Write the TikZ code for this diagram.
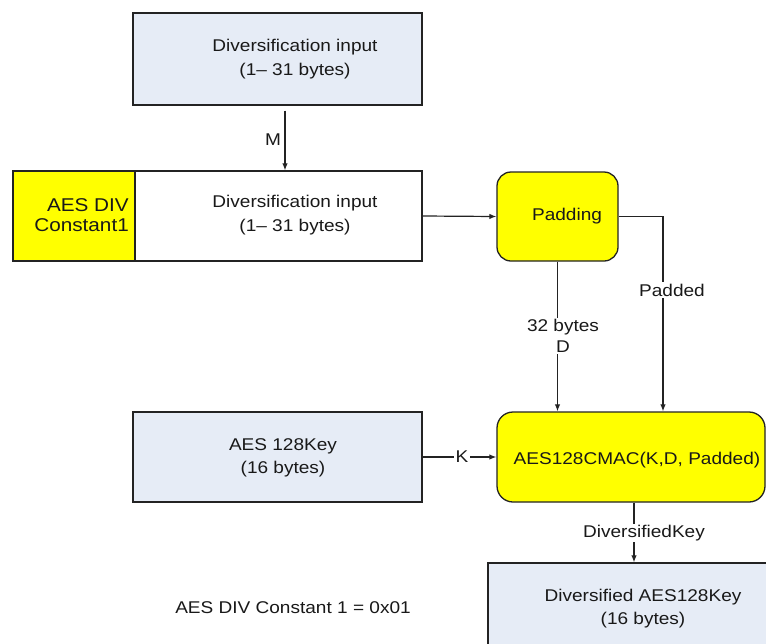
\documentclass[tikz,border=0pt]{standalone}
\usepackage{fontspec}
\setmainfont{Liberation Sans}[FakeStretch=1.12]
\usetikzlibrary{arrows.meta,calc}
\definecolor{boxblue}{RGB}{230,236,246}
\definecolor{yel}{RGB}{255,255,0}
\definecolor{linecol}{RGB}{35,35,35}
\definecolor{txtcol}{RGB}{25,25,25}
\tikzset{
  box/.style={draw=linecol, line width=1.3pt, inner sep=0pt},
  bluebox/.style={box, fill=boxblue},
  yelbox/.style={box, fill=yel, rounded corners=14pt},
  txt/.style={align=center, inner sep=1pt, text=txtcol},
  lbl/.style={fill=white, inner sep=1.5pt, text=txtcol, align=center},
  arr/.style={draw=linecol, line width=1.2pt, -{Latex[length=7pt,width=5.5pt]}},
}
\begin{document}
\begin{tikzpicture}[x=1pt,y=-1pt,font=\fontsize{17}{23.5}\selectfont]
\clip (0,0) rectangle (766,643);
\fill[white] (0,0) rectangle (766,643);
% boxes
\node[bluebox, minimum width=289pt, minimum height=92pt] (top) at (277.5,59) {};
\node[box, fill=yel, minimum width=122pt, minimum height=90pt] (const) at (74,216) {};
\node[box, fill=white, minimum width=287pt, minimum height=90pt] (white) at (278.5,216) {};
\node[yelbox, minimum width=121pt, minimum height=89pt] (pad) at (557.5,216.5) {};
\node[bluebox, minimum width=289pt, minimum height=90pt] (key) at (277.5,457) {};
\node[yelbox, rounded corners=16pt, minimum width=268pt, minimum height=90pt] (cmac) at (631,457) {};
\node[bluebox, minimum width=302pt, minimum height=107pt] (out) at (639,616.5) {};
% texts
\node[txt] (toptxt) at (295,59) {Diversification input\\(1– 31 bytes)};
\node[txt, align=right, anchor=east, font=\fontsize{18.5}{20}\selectfont] (consttxt) at (130,215) {AES DIV\\Constant1};
\node[txt] (whitetxt) at (295,215) {Diversification input\\(1– 31 bytes)};
\node[txt] (padtxt) at (567,216) {Padding};
\node[txt] (keytxt) at (283,458) {AES 128Key\\(16 bytes)};
\node[txt] (cmactxt) at (637,460) {AES128CMAC(K,D, Padded)};
\node[txt] (outtxt) at (643,608.5) {Diversified AES128Key\\(16 bytes)};
\node[txt] (note) at (293,608) {AES DIV Constant 1 = 0x01};
% connectors
\draw[arr] ([xshift=7.5pt,yshift=-5pt]top.south) -- ([xshift=6.5pt]white.north);
\node[txt] (mlbl) at (273,140) {M};
\draw[arr] (white.east) -- (pad.west);
\draw[arr] (pad.east) -| ([xshift=32pt]cmac.north);
\node[lbl] (paddedlbl) at (672,290) {Padded};
\draw[arr] (pad.south) -- (pad.south |- cmac.north);
\node[lbl, font=\fontsize{17}{21}\selectfont] (dlbl) at (563,336) {32 bytes\\D};
\draw[arr] (key.east) -- (cmac.west);
\node[lbl] (klbl) at (462,457) {K};
\draw[arr] ([xshift=3pt]cmac.south) -- ([xshift=3pt]cmac.south |- out.north);
\node[lbl] (dklbl) at (644,533) {DiversifiedKey};
\end{tikzpicture}
\end{document}
